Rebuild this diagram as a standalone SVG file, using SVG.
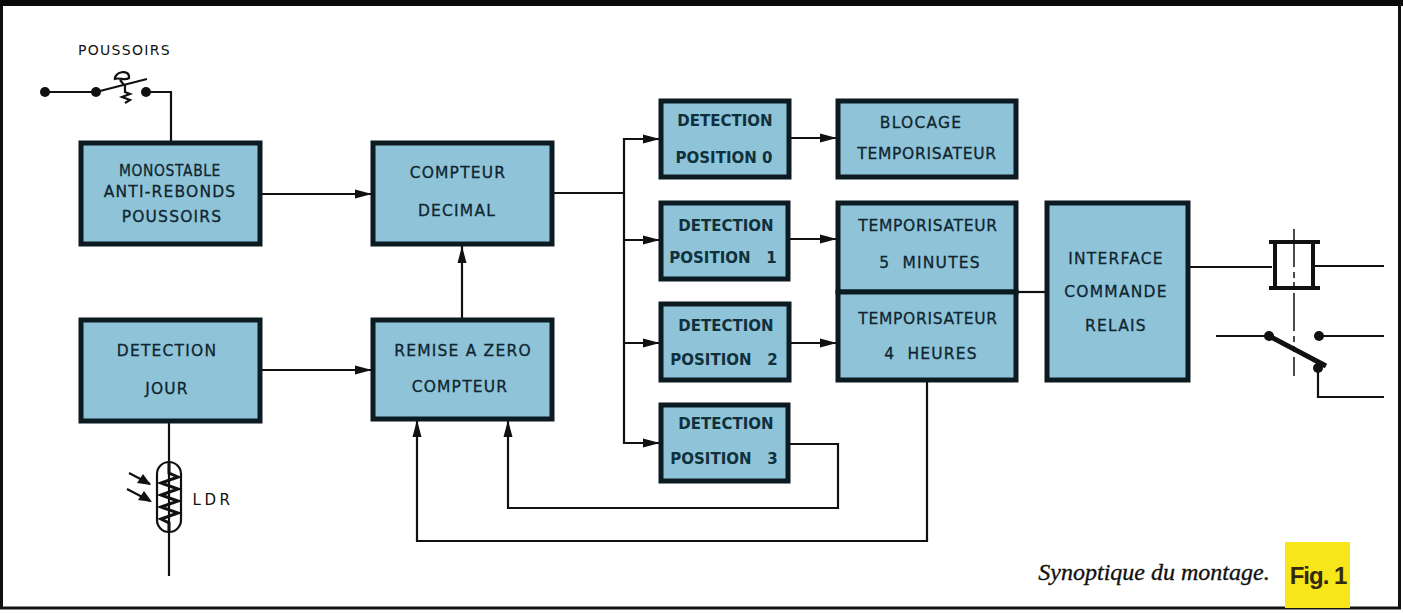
<svg xmlns="http://www.w3.org/2000/svg" width="1403" height="613" viewBox="0 0 1403 613">
<style>
.b{fill:#8ec3d8;stroke:#0c1a22;stroke-width:5}
.t{font-family:"DejaVu Sans","Liberation Sans",sans-serif;font-size:15.5px;fill:#10252f;stroke:#10252f;stroke-width:.3px;text-anchor:middle;letter-spacing:1.2px}
.n{letter-spacing:.7px}
.d{font-family:"DejaVu Sans","Liberation Sans",sans-serif;font-size:15px;font-weight:bold;fill:#10303c;text-anchor:middle}
.w{fill:none;stroke:#111;stroke-width:2.200}
.k{fill:none;stroke:#111;stroke-width:4}
.p{fill:#111}
</style>
<defs><marker id="a" markerUnits="userSpaceOnUse" markerWidth="18" markerHeight="12" refX="17" refY="6" orient="auto"><path d="M0 1.500L17 6L0 10.500z" fill="#111"/></marker></defs>
<rect width="1403" height="613" fill="#fff"/>
<rect x="1.500" y="4" width="1398" height="604" fill="none" stroke="#111" stroke-width="3"/>
<rect x="0" y="0" width="1403" height="6" fill="#0a0a0a"/>
<g id="connectors">
<path class="w" d="M45 92H96M148 92H171V143"/>
<path class="w" marker-end="url(#a)" d="M260 194H372"/>
<path class="w" marker-end="url(#a)" d="M260 370H372"/>
<path class="w" marker-end="url(#a)" d="M462 318V246"/>
<path class="w" d="M553 193H624"/>
<path class="w" marker-end="url(#a)" d="M624 193V139H660"/>
<path class="w" marker-end="url(#a)" d="M624 193V240H660"/>
<path class="w" marker-end="url(#a)" d="M624 240V343H660"/>
<path class="w" marker-end="url(#a)" d="M624 343V443H660"/>
<path class="w" marker-end="url(#a)" d="M789 138H837"/>
<path class="w" marker-end="url(#a)" d="M789 239H837"/>
<path class="w" marker-end="url(#a)" d="M789 343H837"/>
<path class="w" d="M1017 292H1047"/>
<path class="w" d="M1189 267H1272M1314 266H1384"/>
<path class="w" marker-end="url(#a)" d="M789 444H838V508H508V420"/>
<path class="w" marker-end="url(#a)" d="M927 381V541H417V420"/>
<path class="w" d="M169 422V576"/>
<path class="w" d="M1216 336H1269M1319 336H1384M1318 368V397H1384"/>
</g>
<g id="monostable"><rect class="b" x="81" y="143" width="179" height="101"/><text class="t n" x="170" y="176" textLength="102" lengthAdjust="spacingAndGlyphs">MONOSTABLE</text><text class="t" x="170" y="197">ANTI-REBONDS</text><text class="t" x="172" y="222">POUSSOIRS</text></g>
<g id="compteur"><rect class="b" x="373" y="143" width="179" height="101"/><text class="t" x="458" y="178">COMPTEUR</text><text class="t" x="457" y="216">DECIMAL</text></g>
<g id="detection-jour"><rect class="b" x="81" y="320" width="179" height="101"/><text class="t" x="167" y="356">DETECTION</text><text class="t" x="167" y="394">JOUR</text></g>
<g id="raz"><rect class="b" x="373" y="320" width="179" height="99"/><text class="t" x="463" y="356">REMISE A ZERO</text><text class="t" x="460" y="392">COMPTEUR</text></g>
<g id="pos0"><rect class="b" x="661" y="101" width="128" height="76"/><text class="d" x="725" y="126">DETECTION</text><text class="d" x="724" y="163">POSITION  0</text></g>
<g id="pos1"><rect class="b" x="661" y="203" width="127" height="76"/><text class="d" x="726" y="231">DETECTION</text><text class="d" x="723" y="263" xml:space="preserve">POSITION   1</text></g>
<g id="pos2"><rect class="b" x="661" y="304" width="128" height="76"/><text class="d" x="726" y="331">DETECTION</text><text class="d" x="724" y="365" xml:space="preserve">POSITION   2</text></g>
<g id="pos3"><rect class="b" x="661" y="405" width="127" height="76"/><text class="d" x="726" y="429">DETECTION</text><text class="d" x="724" y="464" xml:space="preserve">POSITION   3</text></g>
<g id="blocage"><rect class="b" x="838" y="101" width="178" height="76"/><text class="t" x="921" y="128">BLOCAGE</text><text class="t n" x="927" y="159">TEMPORISATEUR</text></g>
<g id="tempo5"><rect class="b" x="838" y="203" width="178" height="89"/><text class="t n" x="928" y="231">TEMPORISATEUR</text><text class="t" x="930" y="268" xml:space="preserve">5  MINUTES</text></g>
<g id="tempo4"><rect class="b" x="838" y="292" width="178" height="88"/><text class="t n" x="928" y="324">TEMPORISATEUR</text><text class="t" x="931" y="359" xml:space="preserve">4  HEURES</text></g>
<g id="interface"><rect class="b" x="1047" y="203" width="141" height="177"/><text class="t" x="1116" y="264">INTERFACE</text><text class="t" x="1116" y="297">COMMANDE</text><text class="t" x="1116" y="331">RELAIS</text></g>
<g id="poussoirs">
<text x="124.500" y="55" font-family="'DejaVu Sans','Liberation Sans',sans-serif" font-size="14" letter-spacing="1.300" fill="#111" text-anchor="middle">POUSSOIRS</text>
<circle class="p" cx="45" cy="92" r="5"/><circle class="p" cx="96" cy="92" r="5"/><circle class="p" cx="146" cy="92" r="5"/>
<path class="w" d="M96 92L147 79"/>
<path class="w" d="M125 84V92L130 94L122 97L130 100L125 103"/>
<path class="w" d="M115 80C113 72 130 68 129 78C125 81 119 77 114 79M120 80L124 85"/>
</g>
<g id="ldr">
<rect class="w" x="157" y="462" width="24" height="70" rx="12"/>
<path class="w" style="stroke-width:3" d="M169 463V473L178 477L161 483L178 489L161 495L178 501L161 507L178 513L161 519L169 523V532"/>
<path class="w" d="M129 473L150 484"/><path class="w" d="M127 489L150 501"/>
<path class="p" d="M151 485L137 483L143 474zM152 502L138 500L144 491z"/>
<text x="213" y="505" font-family="'DejaVu Sans','Liberation Sans',sans-serif" font-size="15" letter-spacing="3.500" fill="#111" text-anchor="middle">LDR</text>
</g>
<g id="relais">
<path class="k" d="M1269 242H1320M1269 288H1320"/><path class="k" d="M1275 242V288M1313 242V288"/>
<path fill="none" stroke="#111" stroke-width="1.500" stroke-dasharray="38 5 6 4 6 5" d="M1294 229V376"/>
<circle class="p" cx="1269" cy="336" r="5"/><circle class="p" cx="1319" cy="336" r="5"/><circle class="p" cx="1318" cy="368" r="5"/>
<path fill="none" stroke="#111" stroke-width="5" d="M1269 336L1326 366"/>
</g>
<g id="caption">
<text x="1154" y="580" font-family="'Liberation Serif',serif" font-style="italic" font-size="24" fill="#111" stroke="#111" stroke-width=".35" text-anchor="middle">Synoptique du montage.</text>
<rect x="1285" y="542" width="65" height="66" fill="#f7e61a"/>
<text x="1318" y="584" font-family="'Liberation Sans',sans-serif" font-weight="bold" font-size="24" letter-spacing="-1" fill="#332a10" text-anchor="middle">Fig. 1</text>
</g>
</svg>
